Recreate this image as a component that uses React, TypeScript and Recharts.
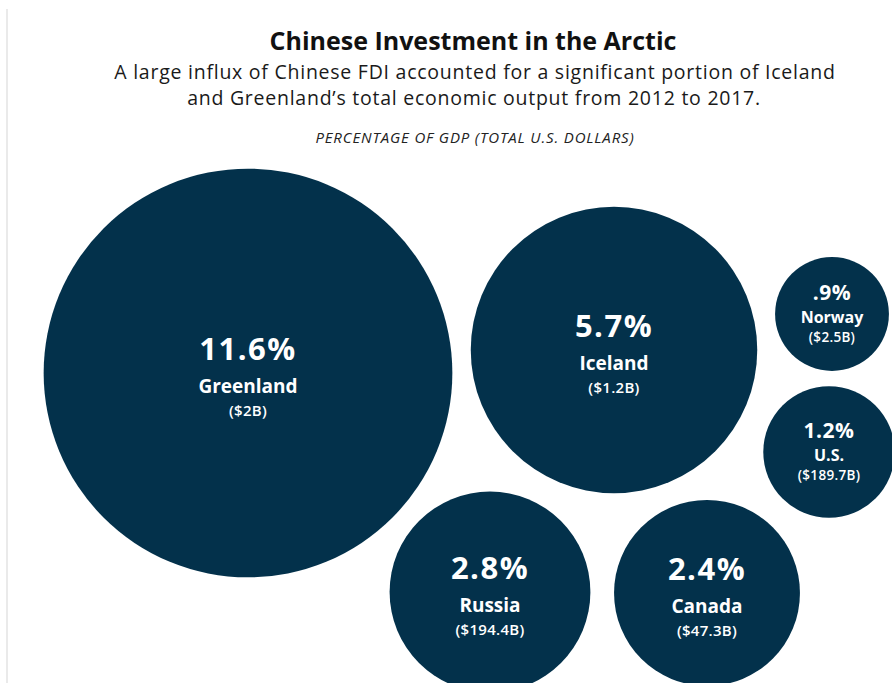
import React from 'react';
import { ScatterChart, Scatter, XAxis, YAxis, ZAxis } from 'recharts';

const countries = ['Greenland', 'Iceland', 'Norway', 'U.S.', 'Russia', 'Canada'];
const gdpShare = [11.6, 5.7, 0.9, 1.2, 2.8, 2.4];
const pctLabels = ['11.6%', '5.7%', '.9%', '1.2%', '2.8%', '2.4%'];
const investment = ['($2B)', '($1.2B)', '($2.5B)', '($189.7B)', '($194.4B)', '($47.3B)'];

// layout (packing positions in chart units)
const bubbleX = [248, 614, 832, 829, 490, 707];
const bubbleY = [373, 350, 314, 452, 592, 593];

const W = 892;
const H = 683;
const NAVY = '#03314b';
const FONT = '"Open Sans", Roboto, sans-serif';
const K = 60; // px radius per sqrt(pct)

const rows = countries.map((c, i) => ({
  country: c,
  share: gdpShare[i],
  pct: pctLabels[i],
  usd: investment[i],
  x: bubbleX[i],
  y: bubbleY[i],
}));

const Bubble = (props: any) => {
  const { cx, cy, payload } = props;
  let r = props.width ? props.width / 2 : Math.sqrt((props.size || 0) / Math.PI);
  const small = r < 80;
  return (
    <g>
      <circle cx={cx} cy={cy} r={r} fill={NAVY} />
      <text x={cx} y={small ? cy - 14 : cy - 13} textAnchor="middle" fill="#fff" fontFamily={FONT} fontWeight={700}
        fontSize={small ? 21 : 31} letterSpacing={small ? 0.5 : 1.5}>
        {payload.pct}
      </text>
      <text x={cx} y={small ? cy + 9 : cy + 20} textAnchor="middle" fill="#fff" fontFamily={FONT} fontWeight={700} fontSize={small ? 16 : 19}>
        {payload.country}
      </text>
      <text x={cx} y={small ? cy + 28 : cy + 43} textAnchor="middle" fill="#fff" fontFamily={FONT} fontWeight={600}
        fontSize={small ? 13.5 : 15} letterSpacing={0.3}>
        {payload.usd}
      </text>
    </g>
  );
};

export default function App() {
  return (
    <div style={{ position: 'absolute', left: 0, top: 0, width: W, height: H, background: '#fff', overflow: 'hidden' }}>
      <div style={{ position: 'absolute', left: 0, top: 0 }}>
        <ScatterChart width={W} height={H} margin={{ top: 0, right: 0, bottom: 0, left: 0 }}>
          <XAxis type="number" dataKey="x" domain={[0, W]} hide height={0} />
          <YAxis type="number" dataKey="y" domain={[0, H]} reversed hide width={0} />
          <ZAxis type="number" dataKey="share" domain={[0, 11.6]} range={[0, Math.PI * K * K * 11.6]} />
          <Scatter data={rows} shape={<Bubble />} isAnimationActive={false} />
        </ScatterChart>
      </div>
      <svg width={W} height={H} style={{ position: 'absolute', left: 0, top: 0, pointerEvents: 'none' }}>
        <line x1={7} y1={9} x2={7} y2={H} stroke="#e3e3e3" strokeWidth={1.5} />
        <text x={473} y={50} textAnchor="middle" fontFamily={FONT} fontWeight={700} fontSize={25} fill="#111">
          Chinese Investment in the Arctic
        </text>
        <text x={475} y={79} textAnchor="middle" fontFamily={FONT} fontSize={19.5} fill="#1a1a1a" letterSpacing={0.75}>
          A large influx of Chinese FDI accounted for a significant portion of Iceland
        </text>
        <text x={474} y={105} textAnchor="middle" fontFamily={FONT} fontSize={19.5} fill="#1a1a1a" letterSpacing={0.75}>
          and Greenland’s total economic output from 2012 to 2017.
        </text>
        <text x={475} y={143} textAnchor="middle" fontFamily={FONT} fontStyle="italic" fontSize={15} fill="#222" letterSpacing={0.85}>
          PERCENTAGE OF GDP (TOTAL U.S. DOLLARS)
        </text>
      </svg>
    </div>
  );
}
